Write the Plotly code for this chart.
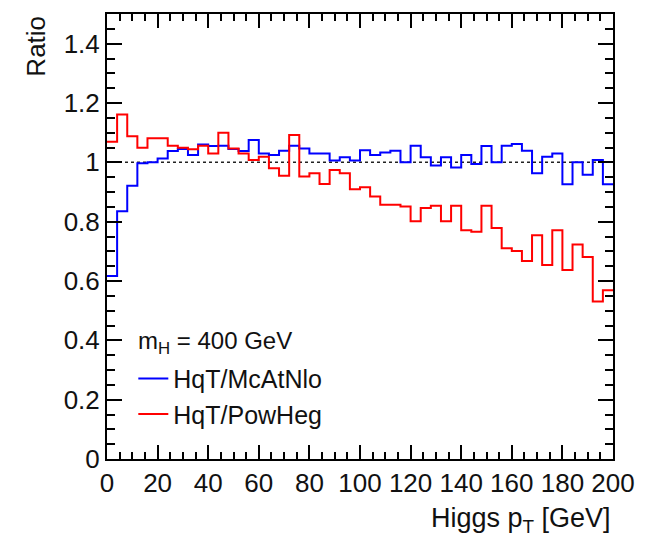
import plotly.graph_objects as go

# ---- data ----
bin_edges = list(range(0, 204, 4))  # 50 bins of 4 GeV, 0..200

hqt_over_mcatnlo = [
    0.617, 0.835, 0.921, 0.997, 1.000, 1.013, 1.038, 1.045, 1.025, 1.060,
    1.055, 1.056, 1.045, 1.038, 1.075, 1.030, 1.025, 1.039, 1.056, 1.047,
    1.030, 1.030, 1.006, 1.017, 1.006, 1.041, 1.025, 1.033, 1.039, 1.000,
    1.056, 1.017, 0.989, 1.017, 0.983, 1.025, 0.994, 1.055, 1.000, 1.056,
    1.062, 1.039, 0.963, 1.019, 1.030, 0.926, 1.000, 0.958, 1.008, 0.926,
]

hqt_over_powheg = [
    1.069, 1.161, 1.088, 1.049, 1.081, 1.081, 1.056, 1.049, 1.044, 1.056,
    1.030, 1.100, 1.047, 1.030, 1.008, 1.019, 0.980, 0.955, 1.092, 0.952,
    0.963, 0.927, 0.974, 0.963, 0.909, 0.916, 0.885, 0.857, 0.857, 0.851,
    0.801, 0.846, 0.854, 0.801, 0.854, 0.771, 0.766, 0.854, 0.779, 0.710,
    0.701, 0.667, 0.754, 0.654, 0.771, 0.637, 0.723, 0.681, 0.531, 0.569,
]

reference_x = [0, 200]
reference_y = [1, 1]

x_tickvals = [0, 20, 40, 60, 80, 100, 120, 140, 160, 180, 200]
x_ticktext = ["0", "20", "40", "60", "80", "100", "120", "140", "160", "180", "200"]
y_tickvals = [0, 0.2, 0.4, 0.6, 0.8, 1.0, 1.2, 1.4]
y_ticktext = ["0", "0.2", "0.4", "0.6", "0.8", "1", "1.2", "1.4"]

FONT = "Liberation Sans, Arial, Helvetica, sans-serif"
TXT = "#111111"

fig = go.Figure()

fig.add_trace(go.Scatter(
    x=reference_x, y=reference_y, mode="lines",
    line=dict(color="#222222", width=1.5, dash="3px,3px"),
    showlegend=False, hoverinfo="skip",
))

fig.add_trace(go.Scatter(
    x=bin_edges, y=hqt_over_mcatnlo + [hqt_over_mcatnlo[-1]],
    mode="lines", line=dict(color="#0000ff", width=2, shape="hv"),
    name="HqT/McAtNlo", legendgroup="a",
))
fig.add_trace(go.Scatter(
    x=bin_edges, y=hqt_over_powheg + [hqt_over_powheg[-1]],
    mode="lines", line=dict(color="#ff0000", width=2, shape="hv"),
    name="HqT/PowHeg", legendgroup="b",
))

axis_common = dict(
    showline=True, linecolor="black", linewidth=2, mirror="ticks",
    ticks="inside", tickcolor="black", tickwidth=1.5,
    showgrid=False, zeroline=False,
    tickfont=dict(family=FONT, size=26, color=TXT),
)

fig.update_xaxes(
    range=[0, 200], tickvals=x_tickvals, ticktext=x_ticktext, ticklen=14,
    tickangle=0,
    minor=dict(dtick=5, tick0=0, ticks="inside", ticklen=7, tickcolor="black", tickwidth=1.5),
    **axis_common,
)
fig.update_yaxes(
    range=[0, 1.5], tickvals=y_tickvals, ticktext=y_ticktext, ticklen=15,
    minor=dict(dtick=0.05, tick0=0, ticks="inside", ticklen=8, tickcolor="black", tickwidth=1.5),
    **axis_common,
)

fig.add_annotation(
    text="Higgs p<sub>T</sub> [GeV]", xref="paper", yref="paper",
    x=1.0, y=-0.095, xanchor="right", yanchor="top", showarrow=False,
    font=dict(family=FONT, size=27, color=TXT),
)
fig.add_annotation(
    text="Ratio", xref="paper", yref="paper",
    x=-0.142, y=1.0, xanchor="center", yanchor="top", textangle=-90,
    showarrow=False, font=dict(family=FONT, size=26, color=TXT),
)
fig.add_annotation(
    text="m<sub>H</sub> = 400 GeV", xref="paper", yref="paper",
    x=0.058, y=0.262, xanchor="left", yanchor="middle", showarrow=False,
    font=dict(family=FONT, size=24, color=TXT),
)

fig.update_layout(
    width=656, height=536,
    margin=dict(l=107, r=43, t=12, b=77),
    plot_bgcolor="white", paper_bgcolor="white",
    legend=dict(
        x=0.052, y=0.232, xanchor="left", yanchor="top",
        bgcolor="rgba(0,0,0,0)",
        font=dict(family=FONT, size=25, color=TXT),
        itemwidth=30, traceorder="grouped", tracegroupgap=0,
    ),
)

fig.write_html("out.html")
